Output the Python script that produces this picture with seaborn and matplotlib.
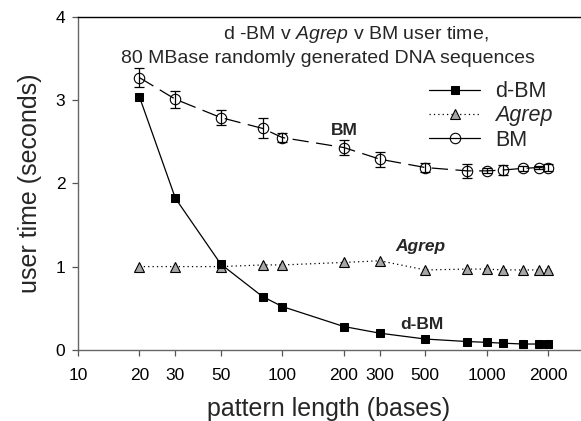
import matplotlib
matplotlib.use("Agg")
import matplotlib.pyplot as plt
import seaborn as sns
import pandas as pd
import numpy as np

sns.set_theme(style="white")
plt.rcParams['font.family'] = ['Liberation Sans', 'DejaVu Sans']
plt.rcParams['mathtext.fontset'] = 'custom'
plt.rcParams['mathtext.rm'] = 'Liberation Sans'
plt.rcParams['mathtext.it'] = 'Liberation Sans:italic'
plt.rcParams['mathtext.bf'] = 'Liberation Sans:bold'

lengths = [20, 30, 50, 80, 100, 200, 300, 500, 800, 1000, 1200, 1500, 1800, 2000]
dbm = [3.04, 1.82, 1.03, 0.64, 0.52, 0.28, 0.20, 0.13, 0.10, 0.09, 0.08, 0.07, 0.07, 0.065]
agrep = [1.0, 1.0, 1.0, 1.02, 1.02, 1.05, 1.07, 0.96, 0.97, 0.97, 0.96, 0.96, 0.96, 0.96]
bm = [3.27, 3.01, 2.79, 2.66, 2.55, 2.43, 2.29, 2.19, 2.15, 2.15, 2.16, 2.18, 2.19, 2.19]
bm_err = [0.11, 0.10, 0.09, 0.12, 0.05, 0.09, 0.09, 0.05, 0.08, 0.03, 0.06, 0.03, 0.02, 0.04]
xticks = [10, 20, 30, 50, 100, 200, 300, 500, 1000, 2000]
yticks = [0, 1, 2, 3, 4]

df = pd.DataFrame({"len": lengths, "dbm": dbm, "agrep": agrep, "bm": bm, "err": bm_err})

fig = plt.figure(figsize=(5.81, 4.21), dpi=100)
ax = fig.add_axes([0.134, 0.169, 0.864, 0.791])

ax.errorbar(df["len"], df["bm"], yerr=df["err"], fmt='none', ecolor='black',
            elinewidth=0.9, capsize=3.5, capthick=0.9, zorder=2)
sns.lineplot(data=df, x="len", y="dbm", ax=ax, color='black', lw=0.9,
             marker='s', markersize=6, markerfacecolor='black',
             markeredgecolor='black', label='d-BM', zorder=4)
sns.lineplot(data=df, x="len", y="agrep", ax=ax, color='black', lw=0.9,
             linestyle=(0, (1, 2.5)), marker='^', markersize=7,
             markerfacecolor='#a6a6a6', markeredgecolor='black', markeredgewidth=0.8,
             label='Agrep', zorder=3)
sns.lineplot(data=df, x="len", y="bm", ax=ax, color='black', lw=0.9,
             linestyle=(0, (13, 6)), marker='o', markersize=7.5,
             markerfacecolor='none', markeredgecolor='black', markeredgewidth=0.8,
             label='BM', zorder=3)

ax.set_xscale('log')
ax.set_xlim(10, 2850)
ax.set_ylim(0, 4)
ax.set_xticks(xticks)
ax.set_xticklabels([str(t) for t in xticks])
ax.xaxis.set_minor_locator(matplotlib.ticker.NullLocator())
ax.set_yticks(yticks)
ax.tick_params(axis='both', which='major', labelsize=12.5, length=4, width=0.9,
               direction='out', color='#555555', labelcolor='black', pad=4)
ax.tick_params(axis='x', bottom=True, pad=9)
ax.tick_params(axis='y', left=True, pad=5)

for s in ['left', 'bottom']:
    ax.spines[s].set_color('#666666')
    ax.spines[s].set_linewidth(1.0)
ax.spines['top'].set_color('black')
ax.spines['top'].set_linewidth(1.0)
ax.spines['right'].set_visible(False)

ax.set_xlabel('pattern length (bases)', fontsize=18, labelpad=10)
ax.set_ylabel('user time (seconds)', fontsize=18, labelpad=10)

fig.text(0.613, 0.919, 'd -BM v $\\mathit{Agrep}$ v BM user time,', fontsize=14, ha='center', va='center')
fig.text(0.564, 0.862, '80 MBase randomly generated DNA sequences', fontsize=14, ha='center', va='center')

ax.text(200, 2.64, 'BM', fontsize=12.5, fontweight='bold', ha='center', va='center')
ax.text(473, 1.24, 'Agrep', fontsize=12.5, fontweight='bold', fontstyle='italic', ha='center', va='center')
ax.text(480, 0.30, 'd-BM', fontsize=12.5, fontweight='bold', ha='center', va='center')

leg = ax.legend(loc='upper right', bbox_to_anchor=(0.985, 0.865), frameon=False,
                fontsize=15.5, handlelength=2.4, labelspacing=0.15, handletextpad=0.7)
leg.get_texts()[1].set_fontstyle('italic')
leg.legend_handles[2].set_linestyle('-')

fig.savefig('out.png', dpi=100)
